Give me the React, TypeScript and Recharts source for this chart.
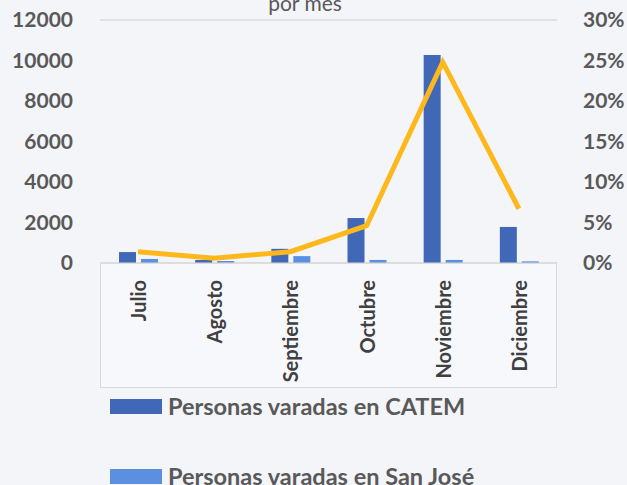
import React from "react";
import {
  ComposedChart,
  Bar,
  Line,
  XAxis,
  YAxis,
  CartesianGrid,
} from "recharts";

const months = ["Julio", "Agosto", "Septiembre", "Octubre", "Noviembre", "Diciembre"];
const catem = [540, 150, 700, 2220, 10270, 1780];
const sanJose = [200, 100, 340, 150, 150, 80];
const percent = [1.4, 0.6, 1.4, 4.6, 24.8, 6.7];

const leftTicks = [0, 2000, 4000, 6000, 8000, 10000, 12000];
const rightTicks = [0, 5, 10, 15, 20, 25, 30];

const seriesNames = ["Personas varadas en CATEM", "Personas varadas en San José"];
const seriesColors = ["#4068b7", "#5b8fe0"];

const data = months.map((m, i) => ({
  month: m,
  catem: catem[i],
  sanJose: sanJose[i],
  pct: percent[i],
}));

const FONT = "Lato, 'Open Sans', sans-serif";
const TEXT = "#595959";

const MonthTick = (props: any) => {
  const { x, y, payload } = props;
  return (
    <text
      x={x}
      y={y + 9}
      transform={`rotate(-90, ${x}, ${y + 9})`}
      textAnchor="end"
      dominantBaseline="central"
      fontFamily={FONT}
      fontWeight={700}
      fontSize={20}
      fill="#404040"
    >
      {payload.value}
    </text>
  );
};

export default function App() {
  return (
    <div
      style={{
        position: "fixed",
        left: 0,
        top: 0,
        width: 627,
        height: 485,
        background: "#f4f5f9",
        overflow: "hidden",
      }}
    >
      <div
        style={{
          position: "absolute",
          left: 100,
          top: 263,
          width: 457,
          height: 125,
          border: "1px solid #d9d9d9",
          borderTop: "none",
          boxSizing: "border-box",
          background: "#f7f8fb",
        }}
      />
      <div
        style={{
          position: "absolute",
          left: 0,
          top: -10,
          width: 610,
          textAlign: "center",
          fontFamily: FONT,
          fontSize: 21,
          color: TEXT,
        }}
      >
        por mes
      </div>
      <ComposedChart
        width={627}
        height={485}
        data={data}
        margin={{ top: 20, right: 0, bottom: 97, left: 0 }}
        barSize={17}
        barGap={5}
        style={{ position: "absolute", left: 0, top: 0 }}
      >
        <CartesianGrid vertical={false} stroke="#d9d9d9" strokeWidth={1.5} />
        <XAxis
          dataKey="month"
          height={125}
          interval={0}
          tick={<MonthTick />}
          tickLine={false}
          axisLine={{ stroke: "#d9d9d9" }}
        />
        <YAxis
          yAxisId="left"
          width={100}
          domain={[0, 12000]}
          ticks={leftTicks}
          tickLine={false}
          axisLine={false}
          tickSize={0}
          tickMargin={27}
          tick={{ fontFamily: FONT, fontWeight: 700, fontSize: 21, fill: TEXT }}
        />
        <YAxis
          yAxisId="right"
          orientation="right"
          width={70}
          domain={[0, 30]}
          ticks={rightTicks}
          tickFormatter={(v: number) => `${v}%`}
          tickLine={false}
          axisLine={false}
          tickSize={0}
          tickMargin={26}
          tick={{ fontFamily: FONT, fontWeight: 700, fontSize: 21, fill: TEXT, textAnchor: "start" }}
        />
        <Bar
          yAxisId="left"
          dataKey="catem"
          name={seriesNames[0]}
          fill={seriesColors[0]}
          isAnimationActive={false}
        />
        <Bar
          yAxisId="left"
          dataKey="sanJose"
          name={seriesNames[1]}
          fill={seriesColors[1]}
          isAnimationActive={false}
        />
        <Line
          yAxisId="right"
          dataKey="pct"
          type="linear"
          stroke="#ffb81c"
          strokeWidth={5}
          dot={false}
          isAnimationActive={false}
        />
      </ComposedChart>
      <div style={{ position: "absolute", left: 110, top: 395, fontFamily: FONT }}>
        {seriesNames.map((name, i) => (
          <div
            key={name}
            style={{ display: "flex", alignItems: "center", height: 22, marginBottom: 48 }}
          >
            <span
              style={{
                width: 52,
                height: 15,
                background: seriesColors[i],
                display: "inline-block",
                marginRight: 6,
              }}
            />
            <span style={{ fontSize: 23.5, fontWeight: 700, color: TEXT, whiteSpace: "nowrap" }}>
              {name}
            </span>
          </div>
        ))}
      </div>
    </div>
  );
}
